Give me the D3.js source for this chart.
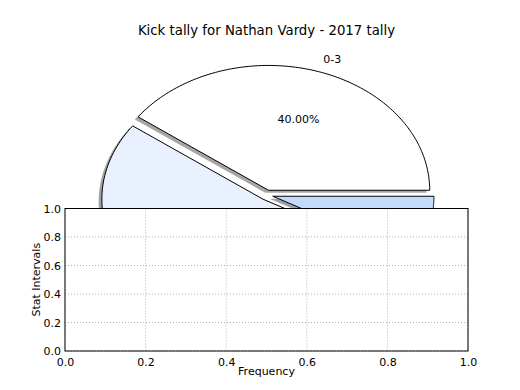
<!DOCTYPE html>
<head>
    <style>
        body { margin: 0; background: #fff; }
        text { font-family: "DejaVu Sans", sans-serif; fill: #000; }
    </style>
</head>
<body>
    <script src="https://d3js.org/d3.v7.min.js"></script>
    <script>
        const width = 520;
        const height = 390;

        // pie data
        const labels = ["0-3", "3-6", "6-9"];
        const values = [10, 13, 2];
        const colors = ["#ffffff", "#e9f0fe", "#c5d9fd"];
        const explode = [0.04, 0.04, 0.04];

        // lower axes ticks
        const xTicks = [0, 0.2, 0.4, 0.6, 0.8, 1.0];
        const yTicks = [0, 0.2, 0.4, 0.6, 0.8, 1.0];

        const svg = d3.select("body").append("svg").attr("width", width).attr("height", height);

        // title
        svg.append("text").attr("x", 266.5).attr("y", 35).attr("text-anchor", "middle")
            .style("font-size", "13.3px").text("Kick tally for Nathan Vardy - 2017 tally");

        // pie axes fills the default figure area, limits -1.25..1.25, aspect not equal
        const px = d3.scaleLinear().domain([-1.25, 1.25]).range([65, 468]);
        const py = d3.scaleLinear().domain([-1.25, 1.25]).range([351, 39]);

        const arcs = d3.pie().sort(null).startAngle(0).endAngle(2 * Math.PI)(values);
        const line = d3.line().x(d => px(d[0])).y(d => py(d[1]));

        function wedge(a, i, ox, oy) {
            const mid = (a.startAngle + a.endAngle) / 2;
            const cx = explode[i] * Math.cos(mid) + ox;
            const cy = explode[i] * Math.sin(mid) + oy;
            const pts = [[cx, cy]];
            const n = 120;
            for (let k = 0; k <= n; ++k) {
                const t = a.startAngle + (a.endAngle - a.startAngle) * k / n;
                pts.push([cx + Math.cos(t), cy + Math.sin(t)]);
            }
            return line(pts) + "Z";
        }

        const pieG = svg.append("g");
        // shadows under all wedges
        pieG.selectAll("path.shadow").data(arcs).enter().append("path")
            .attr("class", "shadow")
            .attr("d", (d, i) => wedge(d, i, -0.02, -0.02))
            .attr("fill", (d, i) => { const c = d3.rgb(colors[i]); return d3.rgb(c.r * 0.3, c.g * 0.3, c.b * 0.3); })
            .attr("fill-opacity", 0.5)
            .attr("stroke", "none");
        pieG.selectAll("path.wedge").data(arcs).enter().append("path")
            .attr("class", "wedge")
            .attr("d", (d, i) => wedge(d, i, 0, 0))
            .attr("fill", (d, i) => colors[i])
            .attr("stroke", "#000").attr("stroke-width", 1);

        const total = d3.sum(values);
        arcs.forEach((a, i) => {
            const mid = (a.startAngle + a.endAngle) / 2;
            const ex = explode[i] * Math.cos(mid), ey = explode[i] * Math.sin(mid);
            const lx = ex + 1.1 * Math.cos(mid), ly = ey + 1.1 * Math.sin(mid);
            pieG.append("text").attr("x", px(lx)).attr("y", py(ly))
                .attr("text-anchor", lx > 0 ? "start" : "end").attr("dominant-baseline", "central")
                .style("font-size", "11px").text(labels[i]);
            pieG.append("text").attr("x", px(ex + 0.6 * Math.cos(mid))).attr("y", py(ey + 0.6 * Math.sin(mid)))
                .attr("text-anchor", "middle").attr("dominant-baseline", "central")
                .style("font-size", "11px").text((values[i] / total * 100).toFixed(2) + "%");
        });

        // lower (empty) axes, subplot 212
        const L = 65, R = 468, T = 208.5, B = 351;
        const x = d3.scaleLinear().domain([0, 1]).range([L, R]);
        const y = d3.scaleLinear().domain([0, 1]).range([B, T]);

        const ax = svg.append("g");
        ax.append("rect").attr("x", L).attr("y", T).attr("width", R - L).attr("height", B - T).attr("fill", "#fff");

        ax.append("g").selectAll("line").data(xTicks).enter().append("line")
            .attr("x1", d => x(d)).attr("x2", d => x(d)).attr("y1", T).attr("y2", B)
            .attr("stroke", "#b0b0b0").attr("stroke-width", 1).attr("stroke-dasharray", "1,2");
        ax.append("g").selectAll("line").data(yTicks).enter().append("line")
            .attr("x1", L).attr("x2", R).attr("y1", d => y(d)).attr("y2", d => y(d))
            .attr("stroke", "#b0b0b0").attr("stroke-width", 1).attr("stroke-dasharray", "1,2");

        const xa = ax.append("g").attr("transform", `translate(0,${B})`)
            .call(d3.axisBottom(x).tickValues(xTicks).tickFormat(d3.format(".1f")).tickSize(0).tickPadding(7));
        const ya = ax.append("g").attr("transform", `translate(${L},0)`)
            .call(d3.axisLeft(y).tickValues(yTicks).tickFormat(d3.format(".1f")).tickSize(0).tickPadding(4));
        [xa, ya].forEach(g => {
            g.select(".domain").remove();
            g.selectAll("text").style("font-size", "11px").style("font-family", "DejaVu Sans, sans-serif").attr("fill", "#000");
        });

        ax.append("rect").attr("x", L).attr("y", T).attr("width", R - L).attr("height", B - T)
            .attr("fill", "none").attr("stroke", "#000").attr("stroke-width", 1);

        svg.append("text").attr("x", (L + R) / 2).attr("y", 375).attr("text-anchor", "middle")
            .style("font-size", "11px").text("Frequency");
        svg.append("text").attr("transform", `translate(40,${(T + B) / 2}) rotate(-90)`)
            .attr("text-anchor", "middle").style("font-size", "11px").text("Stat Intervals");
    </script>
</body>
</html>
